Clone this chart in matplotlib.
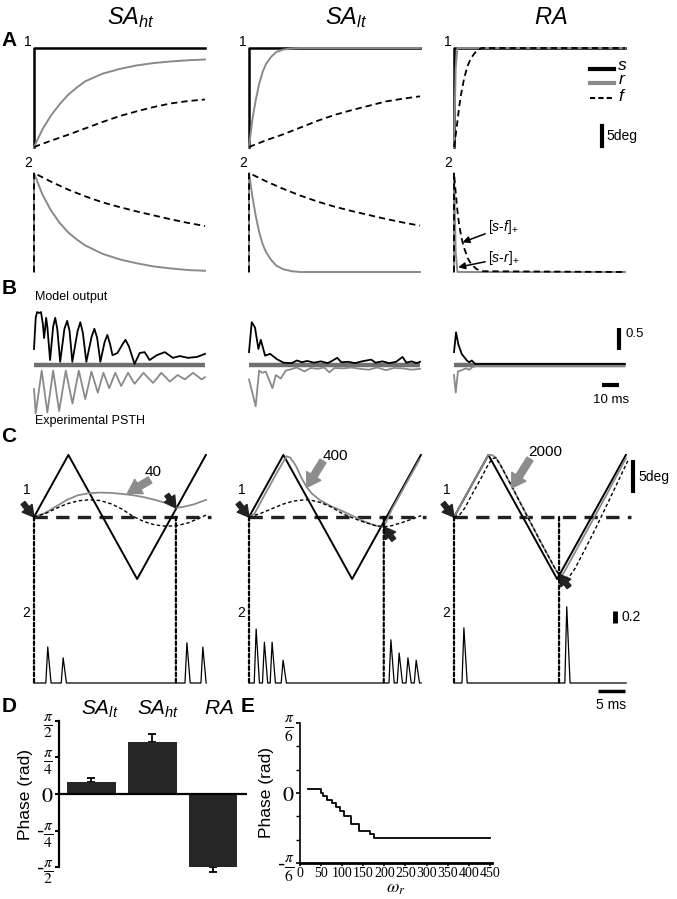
import numpy as np
import matplotlib.pyplot as plt
from matplotlib.patches import ConnectionPatch

plt.rcParams["font.family"] = ["Liberation Sans", "DejaVu Sans"]
plt.rcParams["mathtext.fontset"] = "custom"
plt.rcParams["mathtext.rm"] = "Liberation Sans"
plt.rcParams["mathtext.it"] = "Liberation Sans:italic"

W, H = 677, 899
GRAY = "#8a8a8a"
DASH = (0, (3.5, 2.2))

### data ###

groups = [r"$SA_{ht}$", r"$SA_{lt}$", r"$RA$"]

# A1: step stimulus s and the two filters r and f (deg, time a.u.)
t_step = [0, 0, 100]
s_step = [0, 25, 25]
t_ht = [0, 5, 10, 15, 20, 25, 30, 40, 50, 60, 70, 80, 90, 100]
r_ht = [0, 4.5, 8.0, 10.8, 13.2, 15.0, 16.6, 18.5, 19.7, 20.6, 21.2, 21.6, 21.9, 22.1]
t_lt = [0, 2, 4, 6, 8, 10, 13, 16, 20, 25, 30, 100]
r_lt = [0, 7, 12, 16, 19, 21, 22.8, 24, 24.6, 24.9, 25, 25]
t_ra = [0, 1, 2, 100]
r_ra = [0, 20, 25, 25]
t_slow = [0, 10, 20, 30, 40, 50, 60, 70, 80, 90, 100]
f_ht = [0, 1.6, 3.1, 4.7, 6.3, 7.8, 9.0, 10.1, 11.0, 11.6, 12.0]
f_lt = [0, 1.7, 3.2, 4.9, 6.6, 8.1, 9.3, 10.4, 11.5, 12.2, 12.8]
t_fra = [0, 1, 2, 3, 4, 6, 8, 10, 13, 16, 100]
f_ra = [0, 3, 6.5, 10, 13, 17.5, 20.5, 22.5, 24.2, 25, 25]

# A2: rectified differences [s-r]+ and [s-f]+
sr_ht = [25, 19.5, 15.5, 12.4, 10.0, 8.2, 6.7, 4.6, 3.2, 2.2, 1.4, 0.9, 0.5, 0.3]
sr_lt = [25, 19, 14, 10, 7, 5, 3, 1.6, 0.7, 0.2, 0, 0]
sr_ra = [25, 5, 0, 0]
sf_ht = [25, 22.8, 20.8, 19.1, 17.6, 16.4, 15.3, 14.3, 13.3, 12.4, 11.6]
sf_lt = [25, 22.9, 21.0, 19.3, 17.8, 16.5, 15.4, 14.4, 13.4, 12.5, 11.7]
t_sfra = [0, 1, 2, 3, 4, 5, 6, 8, 10, 13, 16, 100]
sf_ra = [25, 20, 15.5, 12, 9.5, 7.5, 6, 3.5, 2, 0.8, 0.2, 0]

# B: model output (above) and experimental PSTH (below), time in ms
tb_ht = [0, 1.0, 1.8, 3.0, 4.1, 5.2, 5.9, 6.5, 7.1, 7.8, 9.4, 11.2, 12.4, 13.6, 15.3,
         17.8, 19.4, 20.8, 22.4, 25.5, 27.1, 28.6, 30.6, 33.7, 35.3, 36.9, 38.8,
         41.3, 42.9, 44.5, 45.9, 48.8, 51.8, 53.5, 55.5, 58.8, 61.8, 64.7, 67.6, 71.8,
         76.5, 81.2, 85.3, 90, 95.3, 100]
model_ht = [0.34, 1.05, 1.18, 1.16, 1.18, 0.9, 0.59, 0.8, 1.05, 0.85, 0.09, 0.85, 1.05, 0.8,
            0.05, 0.8, 0.98, 0.75, 0.05, 0.75, 0.95, 0.7, 0.05, 0.62, 0.8, 0.6, 0.05,
            0.5, 0.66, 0.45, 0.2, 0.25, 0.45, 0.55, 0.4, 0.0, 0.25, 0.27, 0.09, 0.2,
            0.27, 0.14, 0.18, 0.14, 0.16, 0.23]
te_ht = [0, 1, 4.5, 7.8, 11.2, 14.7, 18.6, 22.5, 26.2, 30, 33.6, 37.3, 40.6, 44, 47.5,
         51, 55, 58.8, 64, 69.6, 74.5, 79.4, 84, 88.2, 93, 98, 100]
psth_ht = [0.52, 1.08, 0.1, 1.05, 0.1, 1.02, 0.1, 0.85, 0.1, 0.75, 0.12, 0.6, 0.15, 0.5, 0.15,
           0.45, 0.15, 0.4, 0.15, 0.38, 0.15, 0.35, 0.2, 0.3, 0.15, 0.3, 0.25]
tb_lt = [0, 1.6, 3.5, 5.5, 6.9, 9.4, 12.4, 16.3, 20.2, 25, 28, 31, 34, 38, 42, 46, 48.5,
         51.6, 54, 58, 62, 66, 71.4, 74, 78, 82, 86, 89.8, 92, 95, 98, 100]
model_lt = [0.27, 0.95, 0.83, 0.34, 0.55, 0.19, 0.23, 0.11, 0.03, 0.02, 0.08, 0.04, 0.07, 0.03,
            0.06, 0.02, 0.07, 0.14, 0.04, 0.05, 0.02, 0.06, 0.1, 0.03, 0.06, 0.02, 0.05, 0.16,
            0.03, 0.06, 0.02, 0.05]
te_lt = [0, 3.9, 5.9, 7.8, 9.8, 13.7, 15.7, 18.6, 21.5, 24.5, 28, 32.4, 36, 40, 44, 47, 50,
         55, 60, 65, 70, 75, 80, 85, 90, 95, 100]
psth_lt = [0.3, 0.91, 0.1, 0.15, 0.12, 0.5, 0.2, 0.28, 0.1, 0.07, 0.03, 0.12, 0.04, 0.06, 0.03,
           0.14, 0.04, 0.05, 0.03, 0.06, 0.08, 0.03, 0.09, 0.04, 0.05, 0.08, 0.06]
tb_ra = [0, 1.2, 2.5, 4.5, 7.5, 9, 10.4, 12.4, 100]
model_ra = [0.27, 0.72, 0.45, 0.23, 0.08, 0.04, 0.08, 0, 0]
te_ra = [0, 1, 2.3, 3.9, 6.9, 8.8, 10.8, 12.7, 100]
psth_ra = [0.2, 0.6, 0.12, 0.1, 0.05, 0.08, 0.02, 0, 0]

# C: triangular stimulus (deg, ms) and filtered responses
tri_t = [0, 6.25, 18.75, 31.25]
tri_v = [0, 9.4, -9.4, 9.4]
omega_labels = ["40", "400", "2000"]
tc_ht = [0, 2, 4, 6, 8, 10, 12, 14, 16, 18, 20, 22, 24, 25.8, 27, 29, 31.3]
resp_ht = [0, 0.6, 1.6, 2.6, 3.3, 3.6, 3.7, 3.65, 3.5, 3.3, 3.0, 2.6, 2.1, 1.4, 1.5, 1.9, 2.6]
tcf_ht = [0, 2, 4, 6, 8, 10, 12, 14, 16, 18, 20, 22, 24, 26, 28, 30, 31.3]
filt_ht = [0, 0.5, 1.3, 2.0, 2.45, 2.6, 2.5, 2.0, 1.2, 0.1, -0.7, -1.2, -1.4, -1.3, -0.9, -0.2, 0.3]
tc_lt = [0, 1, 3, 5, 6.8, 7.5, 8.5, 9.5, 10.5, 11.5, 13, 15, 17, 19, 21, 23, 24.5, 26, 28, 31]
resp_lt = [0, 0.5, 3.6, 6.6, 9.2, 9.0, 7.8, 6.0, 4.5, 3.5, 2.5, 1.6, 0.9, 0.1, -0.7, -1.3,
           -1.5, 1.2, 4.2, 8.7]
tcf_lt = [0, 2, 4, 6, 8, 10, 11, 12, 13, 15, 17, 19, 21, 23, 24.5, 26, 28, 30, 31.3]
filt_lt = [0, 0.5, 1.2, 1.9, 2.4, 2.6, 2.6, 2.4, 2.2, 1.5, 0.5, -0.2, -0.8, -1.3, -1.5, -1.3,
           -0.8, -0.2, 0.2]
tc_ra = [0, 6.25, 6.9, 7.6, 8.5, 10.9, 13.4, 15.9, 18.5, 19.3, 20, 22.5, 25, 27.5, 31.25]
resp_ra = [0, 9.4, 9.4, 9.0, 7.8, 4.0, 0, -4.0, -8.0, -9.1, -8.4, -4.6, -0.8, 3.0, 8.9]
tcf_ra = [0, 1, 2, 3, 4, 5, 6, 6.9, 7.6, 8.5, 10.9, 13.4, 15.9, 18.5, 19.5, 20.3, 21, 22,
          24, 26, 28, 30, 31.6]
filt_ra = [0, 0.3, 1.4, 3.0, 4.5, 6.0, 7.6, 8.8, 9.0, 7.8, 4.0, 0, -4.0, -8.0, -9.1, -9.3,
           -9.0, -7.8, -4.6, -1.3, 2.2, 5.7, 8.5]
# phase markers (ms) and spikes (time ms, rate)
mark_t = [25.8, 24.5, 19.1]
spk_t_ht = [2.5, 5.3, 27.8, 30.7]
spk_h_ht = [0.6, 0.42, 0.67, 0.6]
spk_t_lt = [1.3, 2.8, 4.2, 6.2, 25.8, 27.3, 28.9, 30.4]
spk_h_lt = [0.9, 0.68, 0.68, 0.38, 0.72, 0.5, 0.42, 0.38]
spk_t_ra = [1.8, 20.5]
spk_h_ra = [0.92, 1.27]

# D: phase per afferent class
d_names = [r"$SA_{lt}$", r"$SA_{ht}$", r"$RA$"]
d_phase = [0.26, 1.12, -1.58]
d_err = [0.085, 0.17, 0.095]

# E: phase vs omega_r
omega_r = [20, 50, 55, 65, 75, 85, 95, 105, 120, 140, 165, 175, 450]
phase_e = [0.032, 0.0, -0.02, -0.05, -0.075, -0.105, -0.137, -0.175, -0.229, -0.287, -0.31,
           -0.337, -0.337]

### layout helpers (pixel boxes) ###

fig = plt.figure(figsize=(6.77, 8.99), dpi=100)


def px_axes(box, origin, scale):
    left, top, right, bottom = box
    ox, oy = origin
    sx, sy = scale
    ax = fig.add_axes([left / W, 1 - bottom / H, (right - left) / W, (bottom - top) / H])
    ax.set_xlim((left - ox) / sx, (right - ox) / sx)
    ax.set_ylim((oy - bottom) / sy, (oy - top) / sy)
    ax.axis("off")
    return ax


def ftext(x, y, s, **kw):
    kw.setdefault("va", "center")
    return fig.text(x / W, 1 - y / H, s, **kw)


def fpos(x, y):
    return (x / W, 1 - y / H)


def spikes(times, heights, t_end):
    t, v = [0.0], [0.0]
    for ts, h in zip(times, heights):
        t += [ts - 0.35, ts, ts + 0.6]
        v += [0, h, 0]
    t.append(t_end)
    v.append(0)
    return t, v


cols = [34, 249, 454]

### A ###
ftext(9, 40, "A", fontsize=15, fontweight="bold", ha="center")
a_up = [(t_ht, r_ht, t_slow, f_ht), (t_lt, r_lt, t_slow, f_lt), (t_ra, r_ra, t_fra, f_ra)]
a_dn = [(t_ht, sr_ht, t_slow, sf_ht), (t_lt, sr_lt, t_slow, sf_lt), (t_ra, sr_ra, t_sfra, sf_ra)]
axA2 = []
for i, c in enumerate(cols):
    ftext(c + 97, 18, groups[i], fontsize=17, ha="center")
    ftext(c - 6, 42, "1", fontsize=10, ha="center")
    ftext(c - 6, 163, "2", fontsize=10, ha="center")
    ax = px_axes((c - 4, 40, c + 178, 152), (c, 147), (1.71, 3.96))
    tr, r, tf, f = a_up[i]
    ax.plot(t_step, s_step, color="black", lw=1.8, clip_on=False)
    ax.plot(tr, r, color=GRAY, lw=1.4, clip_on=False)
    ax.plot(tf, f, color="black", lw=1.3, ls=DASH, clip_on=False)

    ax2 = px_axes((c - 4, 165, c + 178, 277), (c, 272), (1.71, 3.96))
    tr, sr, tf, sf = a_dn[i]
    ax2.plot([0] + tr, [0] + sr, color=GRAY, lw=1.4, clip_on=False)
    ax2.plot([0] + tf, [0] + sf, color="black", lw=1.3, ls=DASH, clip_on=False)
    axA2.append(ax2)
    if i == 2:
        # legend and scale bar
        for k, (lab, sty) in enumerate([("s", dict(color="black", lw=3)),
                                        ("r", dict(color=GRAY, lw=3)),
                                        ("f", dict(color="black", lw=1.5, ls=(0, (2.5, 1.5))))]):
            yk = [19.7, 16.2, 12.4][k]
            ax.plot([79.5, 93.5], [yk, yk], clip_on=False, **sty)
            ftext(622, [65, 80, 96][k], "$%s$" % lab, fontsize=12.5, ha="center")
        ax.plot([86.5, 86.5], [0.3, 5.3], color="black", lw=3, clip_on=False)
        ftext(606, 136, "5deg", fontsize=10, ha="left")

arw = dict(arrowstyle="-|>", color="black", lw=1.1, mutation_scale=10, shrinkA=0, shrinkB=0)
axA2[2].annotate(r"[$s$-$f]_{+}$", xy=(5, 7.5), xytext=fpos(488, 227), textcoords="figure fraction",
                 fontsize=10, va="center", arrowprops=arw)
axA2[2].annotate(r"[$s$-$r]_{+}$", xy=(2.5, 1.2), xytext=fpos(488, 258), textcoords="figure fraction",
                 fontsize=10, va="center", arrowprops=arw)

### B ###
ftext(9, 289, "B", fontsize=15, fontweight="bold", ha="center")
ftext(35, 297, "Model output", fontsize=9, ha="left")
ftext(35, 421, "Experimental PSTH", fontsize=9, ha="left")
b_data = [(tb_ht, model_ht, te_ht, psth_ht), (tb_lt, model_lt, te_lt, psth_lt),
          (tb_ra, model_ra, te_ra, psth_ra)]
for i, c in enumerate(cols):
    ax = px_axes((c - 3, 305, c + 178, 418), (c, 364), (1.71, 44))
    tm, m, te, e = b_data[i]
    ax.plot([0, 100], [-0.03, -0.03], color="#707070", lw=3.2, solid_capstyle="butt")
    ax.plot(te, -np.array(e) - 0.05, color=GRAY, lw=1.3)
    ax.plot(tm, m, color="black", lw=1.3)
    if i == 2:
        ax.plot([96.5, 96.5], [0.32, 0.82], color="black", lw=3, solid_capstyle="butt")
        ax.plot([86.5, 96.5], [-0.48, -0.48], color="black", lw=3, solid_capstyle="butt")
ftext(625, 334, "0.5", fontsize=9.5, ha="left")
ftext(611, 400, "10 ms", fontsize=9.5, ha="center")

### C ###
ftext(9, 437, "C", fontsize=15, fontweight="bold", ha="center")
c_data = [(tc_ht, resp_ht, tcf_ht, filt_ht), (tc_lt, resp_lt, tcf_lt, filt_lt),
          (tc_ra, resp_ra, tcf_ra, filt_ra)]
c_spk = [(spk_t_ht, spk_h_ht), (spk_t_lt, spk_h_lt), (spk_t_ra, spk_h_ra)]
lab_px = [(153, 472, 150, 480), (335, 456, 323, 461), (545, 452, 530, 459)]
lab_xy = [(17, 3.6), (10.5, 4.5), (10.5, 4.4)]
mark_from = [(-9, 13), (10, -13), (10, -13)]
fat = dict(arrowstyle="simple,head_width=0.9,head_length=0.8,tail_width=0.35",
           color="#222222", mutation_scale=10, shrinkA=0, shrinkB=0)
gfat = dict(arrowstyle="simple,head_width=1.0,head_length=0.8,tail_width=0.42",
            color="#8c8c8c", mutation_scale=12, shrinkA=0, shrinkB=0)
for i, c in enumerate(cols):
    top = px_axes((c - 6, 445, c + 180, 600), (c, 517), (5.5, 6.6))
    bot = px_axes((c - 6, 600, c + 180, 693), (c, 683), (5.5, 60))
    tr, rr, tf, ff = c_data[i]
    top.plot([0, 32.2], [0, 0], color="#222222", lw=2.4, ls=(0, (4, 2.5)))
    top.plot(tri_t, tri_v, color="black", lw=1.4, clip_on=False)
    top.plot(tr, rr, color=GRAY, lw=1.3, clip_on=False)
    top.plot(tf, ff, color="black", lw=1.0, ls=(0, (2.5, 1.8)), clip_on=False)
    st, sv = spikes(*c_spk[i], 31.3)
    bot.plot(st, sv, color="black", lw=0.9)
    for tm in (0, mark_t[i]):
        con = ConnectionPatch(xyA=(tm, 0), coordsA=top.transData, xyB=(tm, 0), coordsB=bot.transData,
                              color="black", lw=1.6, ls=(0, (1.6, 1.2)))
        fig.add_artist(con)
    ftext(c - 7, 490, "1", fontsize=10, ha="center")
    ftext(c - 8, 613, "2", fontsize=10, ha="center")
    top.annotate("", xy=(0, 0), xytext=(-11, 14), textcoords="offset pixels", arrowprops=fat)
    ym = np.interp(mark_t[i], tf, ff) if i > 0 else np.interp(mark_t[i], tr, rr)
    top.annotate("", xy=(mark_t[i], ym), xytext=mark_from[i], textcoords="offset pixels",
                 arrowprops=fat)
    lx, ly, ax0, ay0 = lab_px[i]
    ftext(lx, ly, omega_labels[i], fontsize=11, ha="center")
    top.annotate("", xy=lab_xy[i], xytext=fpos(ax0, ay0), textcoords="figure fraction",
                 arrowprops=gfat)
    if i == 2:
        top.plot([32.5, 32.5], [3.6, 8.6], color="black", lw=3, solid_capstyle="butt", clip_on=False)
        bot.plot([29.3, 29.3], [1.0, 1.2], color="black", lw=3.5, solid_capstyle="butt", clip_on=False)
        bot.plot([26.2, 31.1], [-0.13, -0.13], color="black", lw=2.5, solid_capstyle="butt",
                 clip_on=False)
ftext(638, 477, "5deg", fontsize=10, ha="left")
ftext(621, 617, "0.2", fontsize=10, ha="left")
ftext(611, 705, "5 ms", fontsize=10, ha="center")

### D ###
ftext(9, 707, "D", fontsize=15, fontweight="bold", ha="center")
ftext(248, 707, "E", fontsize=15, fontweight="bold", ha="center")
sc = 46.5
axD = fig.add_axes([59 / W, 1 - 876 / H, (247 - 59) / W, (876 - 714) / H])
axD.set_ylim((794 - 876) / sc, (794 - 714) / sc)
axD.set_xlim(-0.535, 2.56)
xs = np.arange(len(d_phase))
yerr = [[0 if p > 0 else e for p, e in zip(d_phase, d_err)],
        [e if p > 0 else 0 for p, e in zip(d_phase, d_err)]]
axD.bar(xs, d_phase, width=0.8, color="#262626", zorder=2)
axD.errorbar(xs, d_phase, yerr=yerr, fmt="none", ecolor="black", elinewidth=1.3, capsize=3,
             capthick=1.3, zorder=1)
axD.axhline(0, color="black", lw=1.6, zorder=3)
for sp in ["top", "right", "bottom"]:
    axD.spines[sp].set_visible(False)
axD.spines["left"].set_linewidth(1.6)
axD.spines["left"].set_bounds(-np.pi / 2, np.pi / 2)
axD.set_xticks([])
axD.set_yticks([np.pi / 2, np.pi / 4, 0, -np.pi / 4, -np.pi / 2])
axD.set_yticklabels([r"$\frac{\pi}{2}$", r"$\frac{\pi}{4}$", "$0$", r"-$\frac{\pi}{4}$",
                     r"-$\frac{\pi}{2}$"], math_fontfamily="stix", fontsize=16)
axD.tick_params(axis="y", length=3, width=1.5, pad=1)
axD.set_ylabel("Phase (rad)", fontsize=12.5, labelpad=2)
for k, name in enumerate(d_names):
    ftext([100, 158, 219][k], 709, name, fontsize=15, ha="center")

### E ###
axE = fig.add_axes([300 / W, 1 - 863 / H, (492 - 300) / W, (863 - 723) / H])
axE.step(omega_r, phase_e, where="post", color="black", lw=1.3)
axE.set_xlim(0, 455)
axE.set_ylim(-np.pi / 6, np.pi / 6)
for sp in ["top", "right"]:
    axE.spines[sp].set_visible(False)
axE.spines["bottom"].set_linewidth(2)
axE.spines["left"].set_linewidth(1.2)
axE.spines["bottom"].set_bounds(0, 455)
axE.set_xticks(np.arange(0, 451, 50))
axE.set_xticklabels([str(v) for v in range(0, 451, 50)], fontsize=10, family="Liberation Serif")
axE.set_yticks([np.pi / 6, 0, -np.pi / 6])
axE.set_yticks([np.pi / 18, 2 * np.pi / 18, -np.pi / 18, -2 * np.pi / 18], minor=True)
axE.set_yticklabels([r"$\frac{\pi}{6}$", "$0$", r"-$\frac{\pi}{6}$"], math_fontfamily="stix",
                    fontsize=16)
axE.tick_params(axis="both", length=3, width=1.2, pad=1)
axE.tick_params(axis="y", which="minor", length=3, width=1.0)
axE.tick_params(axis="x", length=2, pad=1)
axE.set_ylabel("Phase (rad)", fontsize=12.5, labelpad=2)
axE.set_xlabel(r"$\omega_r$", math_fontfamily="stix", fontsize=13, labelpad=0)

fig.savefig("out.png", dpi=100)
